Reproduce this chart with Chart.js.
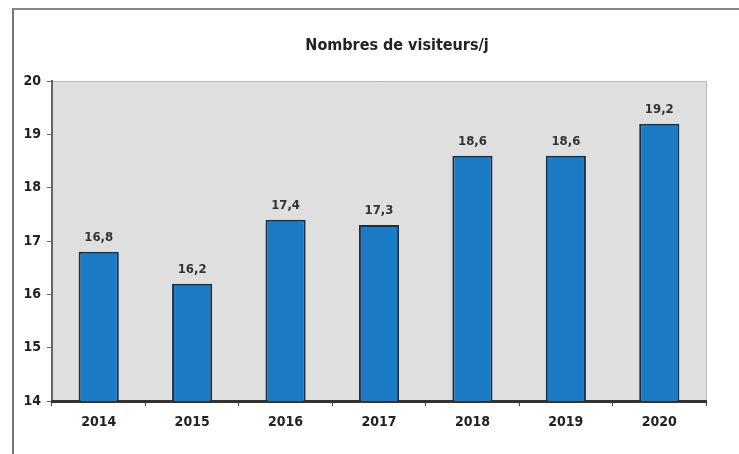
<!DOCTYPE html>
<html>
<head>
<meta charset="utf-8">
<script src="https://cdn.jsdelivr.net/npm/chart.js@4"></script>
<style>
  html, body { margin: 0; padding: 0; background: #fff; }
  .frame { position: absolute; left: 12px; top: 8px; width: 740px; height: 460px; border-left: 2px solid #777; border-top: 2px solid #888; }
  .wrap { position: absolute; left: 0; top: 0; width: 739px; height: 454px; }
</style>
</head>
<body>
<div class="frame"></div>
<div class="wrap"><canvas id="chart" width="739" height="454"></canvas></div>
<script>
const years = ['2014', '2015', '2016', '2017', '2018', '2019', '2020'];
const visitors = [16.8, 16.2, 17.4, 17.3, 18.6, 18.6, 19.2];
const yTicks = [14, 15, 16, 17, 18, 19, 20];
const chartTitle = 'Nombres de visiteurs/j';

const FONT = "'Liberation Sans Narrow', 'DejaVu Sans Condensed', sans-serif";

// grey plot background + title
const plotBg = {
    id: 'plotBg',
    beforeDraw(chart) {
        const { ctx, chartArea: a } = chart;
        ctx.save();
        ctx.fillStyle = '#dfdfdf';
        ctx.fillRect(a.left, a.top, a.right - a.left, a.bottom - a.top);
        ctx.strokeStyle = '#b8b8b8';
        ctx.lineWidth = 1;
        ctx.beginPath();
        ctx.moveTo(a.left, a.top + 0.5);
        ctx.lineTo(a.right + 0.5, a.top + 0.5);
        ctx.lineTo(a.right + 0.5, a.bottom);
        ctx.stroke();

        ctx.font = `bold 16px ${FONT}`;
        ctx.fillStyle = '#222';
        ctx.textAlign = 'center';
        ctx.textBaseline = 'middle';
        ctx.fillText(chartTitle, 397, 46);
        ctx.restore();
    }
};

// values above bars
const valueLabels = {
    id: 'valueLabels',
    afterDatasetsDraw(chart) {
        const { ctx } = chart;
        const meta = chart.getDatasetMeta(0);
        ctx.save();
        ctx.font = `bold 13px ${FONT}`;
        ctx.fillStyle = '#333';
        ctx.textAlign = 'center';
        ctx.textBaseline = 'bottom';
        meta.data.forEach((bar, i) => {
            ctx.fillText(String(visitors[i]).replace('.', ','), bar.x, bar.y - 8);
        });
        ctx.restore();
    }
};

new Chart(document.getElementById('chart').getContext('2d'), {
    type: 'bar',
    data: {
        labels: years,
        datasets: [{
            data: visitors,
            backgroundColor: '#1b7bc4',
            borderColor: '#1d2f44',
            borderWidth: 2,
            borderSkipped: 'bottom',
            barPercentage: 0.43,
            categoryPercentage: 1
        }]
    },
    options: {
        responsive: false,
        animation: false,
        devicePixelRatio: 1,
        layout: { padding: { top: 81, right: 33, left: 0, bottom: 0 } },
        plugins: {
            legend: { display: false },
            tooltip: { enabled: false },
            title: { display: false }
        },
        scales: {
            y: {
                min: 14, max: 20,
                afterFit: s => { s.width = 52; },
                afterBuildTicks: s => { s.ticks = yTicks.map(v => ({ value: v })); },
                grid: { drawOnChartArea: false, tickLength: 5, color: '#666' },
                border: { color: '#666', width: 2 },
                ticks: { color: '#222', padding: 6, font: { family: FONT, size: 14, weight: 'bold' } }
            },
            x: {
                afterFit: s => { s.height = 53; },
                grid: { drawOnChartArea: false, tickLength: 5, color: '#444', offset: true },
                border: { color: '#333', width: 3 },
                ticks: { color: '#222', padding: 8, font: { family: FONT, size: 14, weight: 'bold' } }
            }
        }
    },
    plugins: [plotBg, valueLabels]
});
</script>
</body>
</html>
